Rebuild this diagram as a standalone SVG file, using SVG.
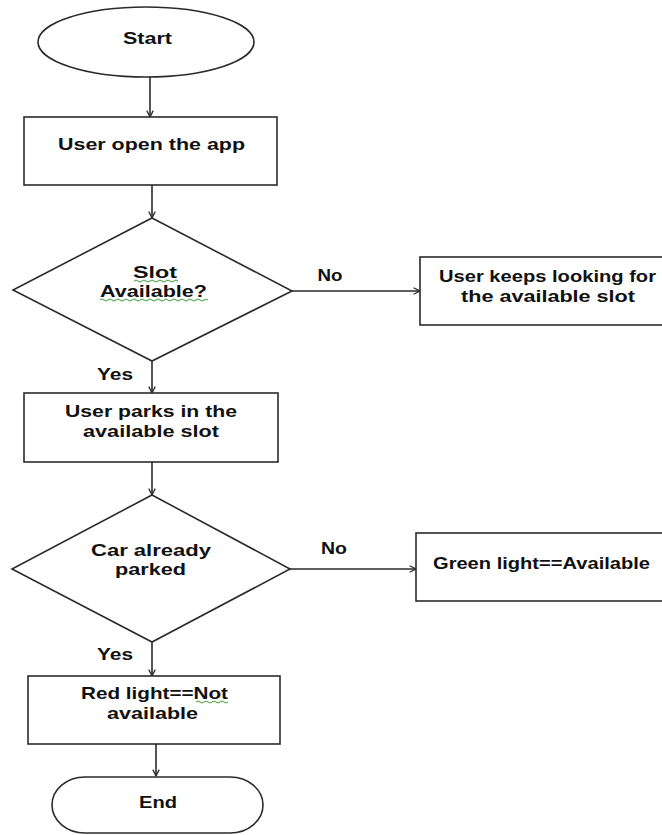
<svg xmlns="http://www.w3.org/2000/svg" width="662" height="835" viewBox="0 0 662 835">
<defs>
<style>
.s{fill:#fff;stroke:#2b2b2b;stroke-width:1.6}
.t{font-family:"Liberation Sans",Arial,sans-serif;font-weight:bold;font-size:17px;fill:#111;text-anchor:middle}
.c{stroke:#2b2b2b;stroke-width:1.6;fill:none}
.w{fill:none;stroke:#3a9a3a;stroke-width:1}
</style>
<marker id="ah" viewBox="0 0 10 10" refX="9" refY="5" markerWidth="8" markerHeight="8" markerUnits="userSpaceOnUse" orient="auto">
<path d="M1,1 L9,5 L1,9" fill="none" stroke="#2b2b2b" stroke-width="1.6"/>
</marker>
</defs>
<rect width="662" height="835" fill="#fff"/>

<g id="connectors">
<line class="c" x1="150" y1="77" x2="150" y2="117" marker-end="url(#ah)"/>
<line class="c" x1="152" y1="185" x2="152" y2="218" marker-end="url(#ah)"/>
<line class="c" x1="292" y1="291" x2="420" y2="291" marker-end="url(#ah)"/>
<line class="c" x1="152" y1="361" x2="152" y2="393" marker-end="url(#ah)"/>
<line class="c" x1="152" y1="462" x2="152" y2="495" marker-end="url(#ah)"/>
<line class="c" x1="290" y1="569" x2="416" y2="569" marker-end="url(#ah)"/>
<line class="c" x1="152" y1="642" x2="152" y2="676" marker-end="url(#ah)"/>
<line class="c" x1="156" y1="744" x2="156" y2="776" marker-end="url(#ah)"/>
<text class="t" x="330" y="281" textLength="25" lengthAdjust="spacingAndGlyphs">No</text>
<text class="t" x="115" y="380" textLength="36" lengthAdjust="spacingAndGlyphs">Yes</text>
<text class="t" x="334" y="554" textLength="26" lengthAdjust="spacingAndGlyphs">No</text>
<text class="t" x="115" y="660" textLength="36" lengthAdjust="spacingAndGlyphs">Yes</text>
</g>

<g id="start">
<ellipse class="s" cx="146" cy="42" rx="108" ry="35"/>
<text class="t" x="147.5" y="44" textLength="49" lengthAdjust="spacingAndGlyphs">Start</text>
</g>

<g id="open-app">
<rect class="s" x="24" y="117" width="253" height="68"/>
<text class="t" x="151.5" y="150" textLength="187" lengthAdjust="spacingAndGlyphs">User open the app</text>
</g>

<g id="slot-available">
<polygon class="s" points="152,218 292,291 152,361 13,290"/>
<text class="t" x="155" y="278" textLength="44" lengthAdjust="spacingAndGlyphs">Slot</text>
<text class="t" x="153.5" y="297" textLength="107" lengthAdjust="spacingAndGlyphs">Available?</text>
<path class="w" d="M134,281 q2,-2 4,0 t4,0 t4,0 t4,0 t4,0 t4,0 t4,0 t4,0 t4,0 t4,0 t4,0"/>
<path class="w" d="M100,300 q2,-2 4,0 t4,0 t4,0 t4,0 t4,0 t4,0 t4,0 t4,0 t4,0 t4,0 t4,0 t4,0 t4,0 t4,0 t4,0 t4,0 t4,0 t4,0 t4,0 t4,0 t4,0 t4,0 t4,0 t4,0 t4,0 t4,0 t4,0"/>
</g>

<g id="keeps-looking">
<rect class="s" x="420" y="257" width="246" height="68"/>
<text class="t" x="547.5" y="282" textLength="217" lengthAdjust="spacingAndGlyphs">User keeps looking for</text>
<text class="t" x="548" y="302" textLength="174" lengthAdjust="spacingAndGlyphs">the available slot</text>
</g>

<g id="parks">
<rect class="s" x="24" y="393" width="254" height="69"/>
<text class="t" x="151" y="417" textLength="172" lengthAdjust="spacingAndGlyphs">User parks in the</text>
<text class="t" x="151" y="437" textLength="136" lengthAdjust="spacingAndGlyphs">available slot</text>
</g>

<g id="car-parked">
<polygon class="s" points="152,495 290,569 152,642 12,569"/>
<text class="t" x="151" y="556" textLength="120" lengthAdjust="spacingAndGlyphs">Car already</text>
<text class="t" x="150.5" y="575" textLength="71" lengthAdjust="spacingAndGlyphs">parked</text>
</g>

<g id="green-light">
<rect class="s" x="416" y="533" width="250" height="68"/>
<text class="t" x="541.5" y="569" textLength="217" lengthAdjust="spacingAndGlyphs">Green light==Available</text>
</g>

<g id="red-light">
<rect class="s" x="28" y="676" width="252" height="68"/>
<text class="t" x="154.5" y="699" textLength="147" lengthAdjust="spacingAndGlyphs">Red light==Not</text>
<text class="t" x="152.5" y="719" textLength="91" lengthAdjust="spacingAndGlyphs">available</text>
<path class="w" d="M196,702 q2,-2 4,0 t4,0 t4,0 t4,0 t4,0 t4,0 t4,0 t4,0"/>
</g>

<g id="end">
<rect class="s" x="52" y="777" width="211" height="56" rx="33" ry="28"/>
<text class="t" x="158" y="808" textLength="38" lengthAdjust="spacingAndGlyphs">End</text>
</g>
</svg>
